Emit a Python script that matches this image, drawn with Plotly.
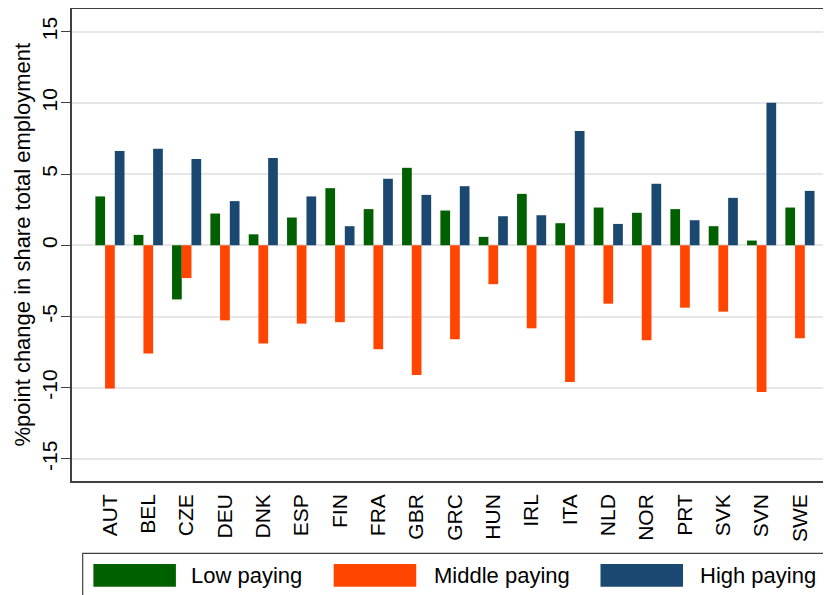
import plotly.graph_objects as go

countries = ["AUT", "BEL", "CZE", "DEU", "DNK", "ESP", "FIN", "FRA", "GBR", "GRC",
             "HUN", "IRL", "ITA", "NLD", "NOR", "PRT", "SVK", "SVN", "SWE"]
low_paying = [3.43, 0.73, -3.80, 2.23, 0.77, 1.95, 4.01, 2.54, 5.44, 2.44,
              0.59, 3.61, 1.55, 2.65, 2.28, 2.54, 1.34, 0.33, 2.65]
middle_paying = [-10.05, -7.60, -2.30, -5.27, -6.90, -5.50, -5.40, -7.30, -9.10, -6.60,
                 -2.73, -5.83, -9.60, -4.10, -6.67, -4.38, -4.66, -10.30, -6.53]
high_paying = [6.62, 6.78, 6.06, 3.10, 6.13, 3.43, 1.34, 4.67, 3.54, 4.15,
               2.04, 2.11, 8.03, 1.50, 4.32, 1.76, 3.33, 10.00, 3.82]
series_names = ["Low paying", "Middle paying", "High paying"]
y_ticks = [-15, -10, -5, 0, 5, 10, 15]
y_title = "%point change in share total employment"

colors = ["#006000", "#FF4500", "#1B4870"]
FONT = "Liberation Sans, Arial, sans-serif"
OFF = 8  # page body margin in the screenshot
W, H = 831 - OFF, 595 - OFF
ML, MR, MT, MB = 72 - OFF, 0, 9 - OFF, 595 - 481
pw, ph = W - ML - MR, H - MT - MB

def px(x):
    """screen pixel x -> paper fraction"""
    return (x - OFF - ML) / pw
def py(y):
    """screen pixel y -> paper fraction"""
    return (H - MB - (y - OFF)) / ph

fig = go.Figure()
for name, vals, col in zip(series_names, [low_paying, middle_paying, high_paying], colors):
    fig.add_trace(go.Bar(x=countries, y=vals, name=name, marker_color=col,
                         marker_line_width=0, showlegend=False))

fig.update_layout(
    width=W, height=H,
    margin=dict(l=ML, r=MR, t=MT, b=MB, pad=0),
    plot_bgcolor="white", paper_bgcolor="white",
    barmode="group", bargap=0.24, bargroupgap=0,
    font=dict(family=FONT, size=21, color="#000000"),
)
fig.update_xaxes(
    type="category", range=[-0.99, 18.81], automargin=False,
    tickangle=-90, ticks="", showgrid=False, ticklabelstandoff=3,
    showline=True, linecolor="#404040", linewidth=1.5, mirror=True,
    tickfont=dict(size=21, family=FONT, color="#000000"),
)
fig.update_yaxes(
    range=[-16.55, 16.59], tickvals=y_ticks, ticktext=[str(v) for v in y_ticks],
    automargin=False, ticklabelstandoff=-4,
    tickangle=-90, ticks="outside", ticklen=9, tickcolor="#404040", tickwidth=1.2,
    showgrid=True, gridcolor="#e6e6e6", gridwidth=1.5,
    zeroline=True, zerolinecolor="#e6e6e6", zerolinewidth=1.5,
    showline=True, linecolor="#404040", linewidth=1.5, mirror=False,
    tickfont=dict(size=21, family=FONT, color="#000000"),
)

shapes = [dict(type="rect", xref="paper", yref="paper",
               x0=px(82.7), x1=px(824), y0=py(553.3), y1=py(610),
               line=dict(color="#404040", width=1.2), fillcolor="white")]
swatch_x = [93.4, 333.7, 600.5]
text_x = [188.7, 432.0, 697.8]
annotations = [dict(xref="paper", yref="paper", x=px(22), y=py(244.5),
                    text=y_title, textangle=-90, showarrow=False,
                    xanchor="center", yanchor="middle",
                    font=dict(size=22, family=FONT, color="#000000"))]
for name, col, sx, tx in zip(series_names, colors, swatch_x, text_x):
    shapes.append(dict(type="rect", xref="paper", yref="paper",
                       x0=px(sx), x1=px(sx + 82.5), y0=py(564), y1=py(586.7),
                       line=dict(width=0), fillcolor=col))
    annotations.append(dict(xref="paper", yref="paper", x=px(tx), y=py(575.5),
                            text=name, showarrow=False, xanchor="left", yanchor="middle",
                            font=dict(size=22, family=FONT, color="#000000")))
fig.update_layout(shapes=shapes, annotations=annotations)

fig.write_html("out.html")
